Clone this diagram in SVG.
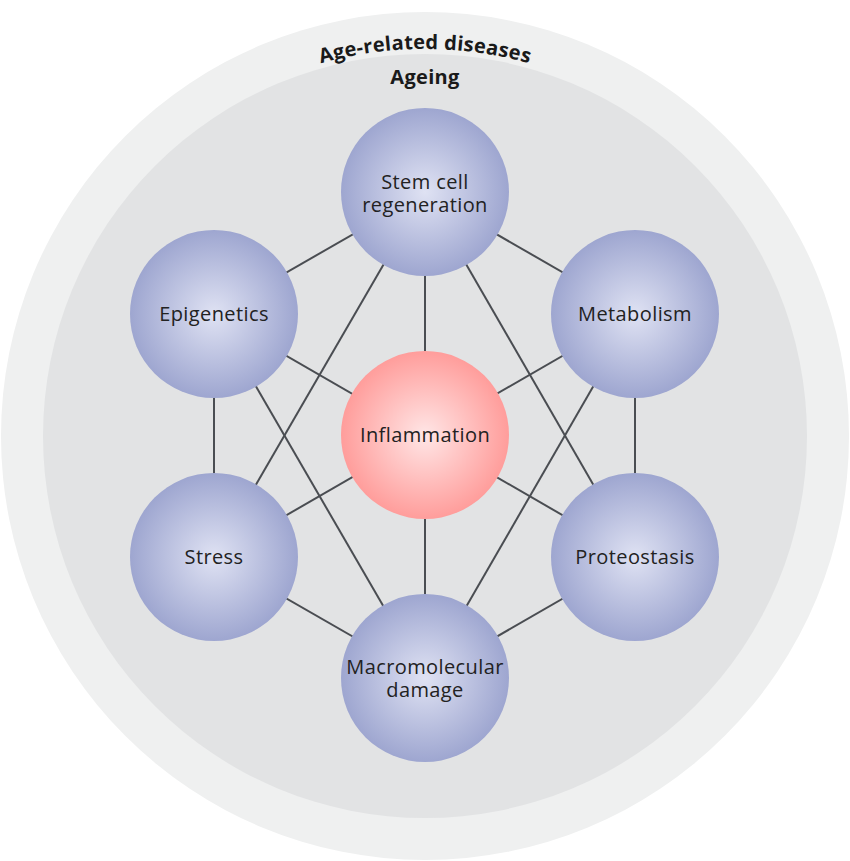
<svg xmlns="http://www.w3.org/2000/svg" width="850" height="861" viewBox="0 0 850 861">
<style>
.lbl{font-family:"Open Sans","Noto Sans","Liberation Sans",sans-serif;font-size:20px;letter-spacing:0.4px;fill:#222;text-anchor:middle}
.ttl{font-family:"Open Sans","Noto Sans","Liberation Sans",sans-serif;font-size:20px;letter-spacing:0.3px;font-weight:bold;fill:#1a1a1a;text-anchor:middle}
.edge{stroke:#4a4d52;stroke-width:2;fill:none}
.node{fill:url(#blue)}
</style>
<defs>
<radialGradient id="blue" cx="50%" cy="50%" r="50%">
<stop offset="0" stop-color="#dfe2f3"/>
<stop offset="1" stop-color="#9ea6d0"/>
</radialGradient>
<radialGradient id="red" cx="50%" cy="50%" r="50%">
<stop offset="0" stop-color="#ffe6e6"/>
<stop offset="1" stop-color="#ff9d9b"/>
</radialGradient>
<path id="arc" d="M 38 436 A 387 387 0 0 1 812 436"/>
</defs>
<g id="background">
<circle cx="425" cy="436" r="424" fill="#eff0f0"/>
<circle cx="425" cy="436" r="382" fill="#e2e3e4"/>
<text class="ttl"><textPath href="#arc" startOffset="50%">Age-related diseases</textPath></text>
<text class="ttl" x="425" y="84">Ageing</text>
</g>
<g id="connectors">
<line class="edge" x1="425" y1="193" x2="214" y2="314"/>
<line class="edge" x1="425" y1="193" x2="635" y2="314"/>
<line class="edge" x1="214" y1="314" x2="214" y2="557"/>
<line class="edge" x1="635" y1="314" x2="635" y2="557"/>
<line class="edge" x1="214" y1="557" x2="425" y2="678"/>
<line class="edge" x1="635" y1="557" x2="425" y2="678"/>
<line class="edge" x1="425" y1="193" x2="425" y2="678"/>
<line class="edge" x1="214" y1="314" x2="635" y2="557"/>
<line class="edge" x1="635" y1="314" x2="214" y2="557"/>
<line class="edge" x1="425" y1="193" x2="214" y2="557"/>
<line class="edge" x1="425" y1="193" x2="635" y2="557"/>
<line class="edge" x1="214" y1="314" x2="425" y2="678"/>
<line class="edge" x1="635" y1="314" x2="425" y2="678"/>
</g>
<g id="node-stem">
<circle class="node" cx="425" cy="192" r="84"/>
<text class="lbl" x="425" y="189">Stem cell</text>
<text class="lbl" x="425" y="212">regeneration</text>
</g>
<g id="node-epigenetics">
<circle class="node" cx="214" cy="314" r="84"/>
<text class="lbl" x="214" y="321">Epigenetics</text>
</g>
<g id="node-metabolism">
<circle class="node" cx="635" cy="314" r="84"/>
<text class="lbl" x="635" y="321">Metabolism</text>
</g>
<g id="node-stress">
<circle class="node" cx="214" cy="557" r="84"/>
<text class="lbl" x="214" y="564">Stress</text>
</g>
<g id="node-proteostasis">
<circle class="node" cx="635" cy="557" r="84"/>
<text class="lbl" x="635" y="564">Proteostasis</text>
</g>
<g id="node-macromolecular">
<circle class="node" cx="425" cy="678" r="84"/>
<text class="lbl" x="425" y="674">Macromolecular</text>
<text class="lbl" x="425" y="697">damage</text>
</g>
<g id="node-inflammation">
<circle cx="425" cy="435" r="84" fill="url(#red)"/>
<text class="lbl" x="425" y="442">Inflammation</text>
</g>
</svg>
